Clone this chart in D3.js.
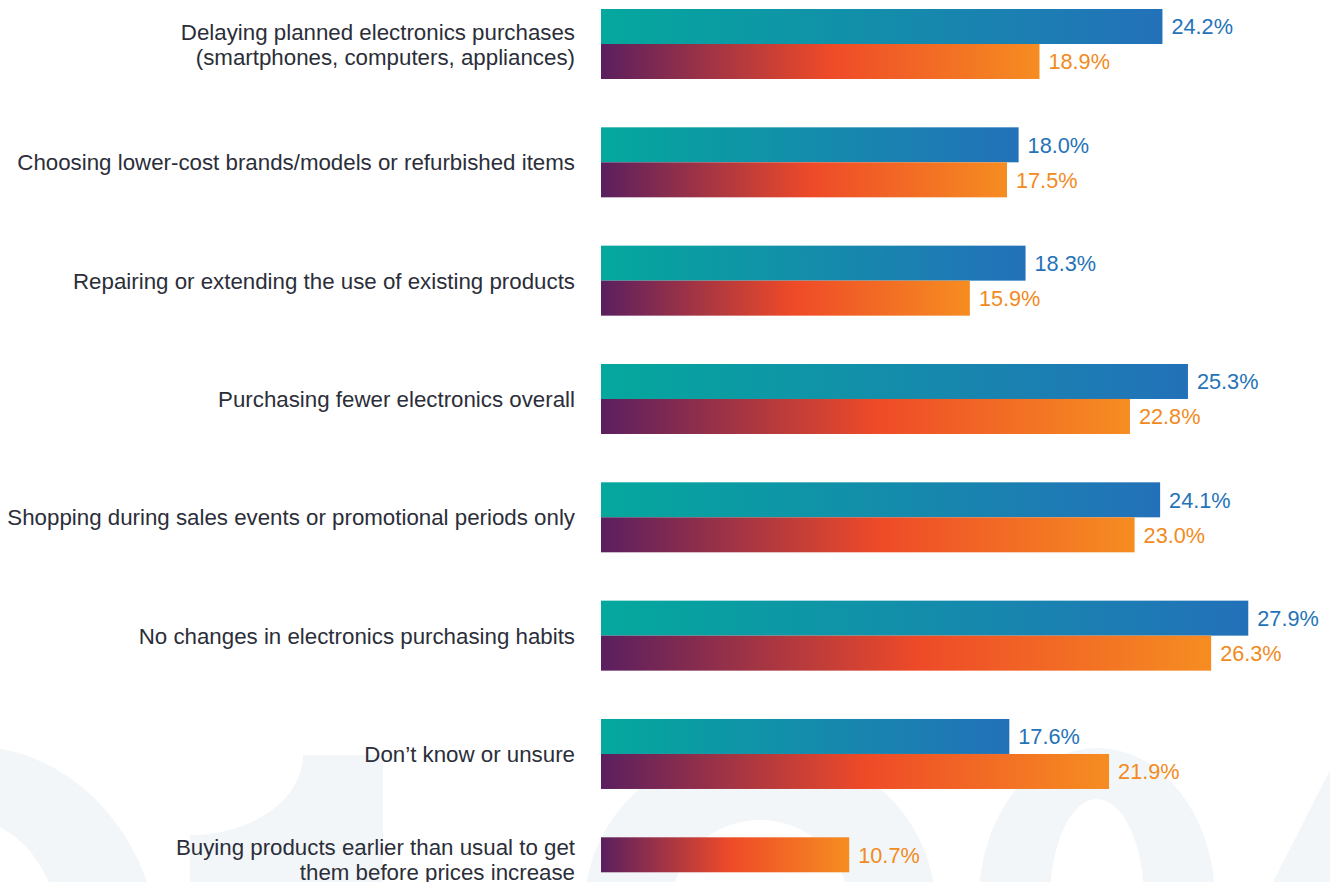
<!DOCTYPE html>
<html>
<head>
<meta charset="utf-8">
<script src="https://cdn.jsdelivr.net/npm/d3@7/dist/d3.min.js"></script>
<style>
  html, body { margin: 0; padding: 0; background: #ffffff; }
  svg { display: block; font-family: "Liberation Sans", Arial, Helvetica, sans-serif; }
</style>
</head>
<body>
<svg id="chart" width="1330" height="882"></svg>
<script>
const categories = [
  "Delaying planned electronics purchases\n(smartphones, computers, appliances)",
  "Choosing lower-cost brands/models or refurbished items",
  "Repairing or extending the use of existing products",
  "Purchasing fewer electronics overall",
  "Shopping during sales events or promotional periods only",
  "No changes in electronics purchasing habits",
  "Don\u2019t know or unsure",
  "Buying products earlier than usual to get\nthem before prices increase"
];
const seriesKeys = ["teal", "orange"];
const tealValues = [24.2, 18.0, 18.3, 25.3, 24.1, 27.9, 17.6, null];
const orangeValues = [18.9, 17.5, 15.9, 22.8, 23.0, 26.3, 21.9, 10.7];

const svg = d3.select("#chart");

// faint background watermark glyphs
const wm = svg.append("g").attr("fill", "#f3f6f9");
function ring(cx, cy, rxo, ryo, rxi, ryi) {
  return `M${cx - rxo},${cy} a${rxo},${ryo} 0 1,0 ${2*rxo},0 a${rxo},${ryo} 0 1,0 ${-2*rxo},0 Z ` +
         `M${cx - rxi},${cy} a${rxi},${ryi} 0 1,1 ${2*rxi},0 a${rxi},${ryi} 0 1,1 ${-2*rxi},0 Z`;
}
wm.append("path").attr("fill-rule", "evenodd").attr("d", ring(-30, 960, 190, 214, 95, 140));
wm.append("path").attr("d", "M303,755 L383,755 L383,882 L190,882 L190,835 A113,80 0 0,0 303,755 Z");
wm.append("path").attr("fill-rule", "evenodd").attr("d", ring(760, 905, 175, 160, 88, 85));
wm.append("path").attr("fill-rule", "evenodd").attr("d", ring(1097, 900, 118, 152, 47, 101));
wm.append("path").attr("d", "M1273,882 L1330,770 L1330,882 Z");

const x = d3.scaleLinear().domain([0, 1]).range([601, 601 + 23.2]);
const y = d3.scalePoint().domain(categories).range([44, 872.3]);
const sub = d3.scaleBand().domain(seriesKeys).range([-35, 35]);

const defs = svg.append("defs");
const gT = defs.append("linearGradient").attr("id", "gTeal").attr("x1", 0).attr("x2", 1).attr("y1", 0).attr("y2", 0);
gT.append("stop").attr("offset", "0").attr("stop-color", "#04a89d");
gT.append("stop").attr("offset", "1").attr("stop-color", "#2371b9");
const gO = defs.append("linearGradient").attr("id", "gOrange").attr("x1", 0).attr("x2", 1).attr("y1", 0).attr("y2", 0);
gO.append("stop").attr("offset", "0").attr("stop-color", "#5a1f5f");
gO.append("stop").attr("offset", "0.52").attr("stop-color", "#ee4a28");
gO.append("stop").attr("offset", "1").attr("stop-color", "#f68d21");

const series = [
  { key: "teal", values: tealValues, fill: "url(#gTeal)", text: "#2573b7" },
  { key: "orange", values: orangeValues, fill: "url(#gOrange)", text: "#f28a22" }
];

// when a category has only one series, that bar takes the first slot
const rows = [];
categories.forEach((c, i) => {
  const present = series.filter(s => s.values[i] != null);
  present.forEach((s, j) => rows.push({ cat: c, v: s.values[i], s, slot: seriesKeys[j], n: present.length }));
});

const barTop = d => y(d.cat) + sub(d.slot);

svg.append("g").selectAll("rect").data(rows).join("rect")
  .attr("x", x(0))
  .attr("y", barTop)
  .attr("width", d => x(d.v) - x(0))
  .attr("height", sub.bandwidth())
  .attr("fill", d => d.s.fill);

svg.append("g").selectAll("text").data(rows).join("text")
  .attr("x", d => x(d.v) + 9)
  .attr("y", d => barTop(d) + sub.bandwidth() / 2)
  .attr("dy", "0.36em")
  .attr("font-size", 21.7)
  .attr("fill", d => d.s.text)
  .text(d => d.v.toFixed(1) + "%");

const lab = svg.append("g").attr("text-anchor", "end").attr("font-size", 22.3).attr("fill", "#2b2e39");
categories.forEach((c, i) => {
  const lines = c.split("\n");
  const mine = rows.filter(r => r.cat === c);
  const top = d3.min(mine, barTop), bot = d3.max(mine, r => barTop(r) + sub.bandwidth());
  const cy = (top + bot) / 2 + (mine.length === 1 ? 5 : 0);
  const t = lab.append("text").attr("x", 575).attr("y", cy);
  lines.forEach((ln, j) => {
    t.append("tspan").attr("x", 575)
      .attr("y", cy + (j - (lines.length - 1) / 2) * 25)
      .attr("dy", "0.36em").text(ln);
  });
});
</script>
</body>
</html>
